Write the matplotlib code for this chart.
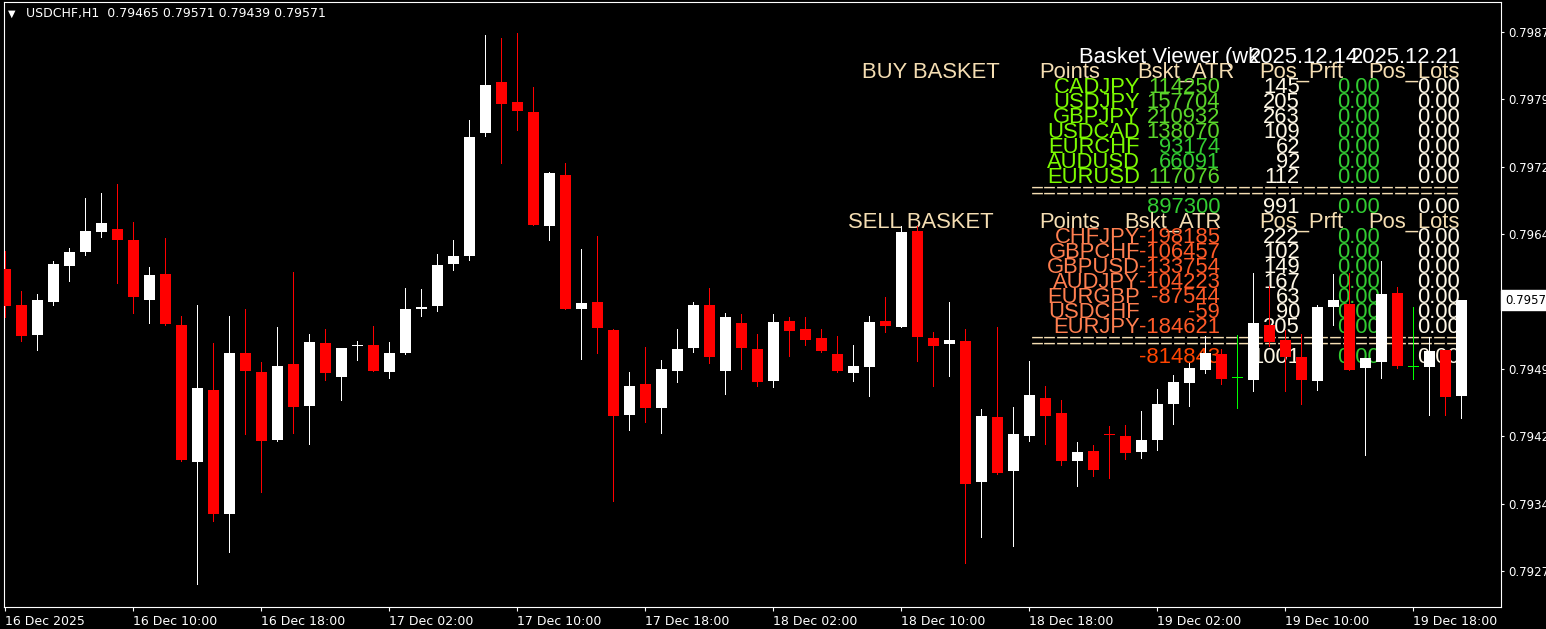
import matplotlib
matplotlib.use("Agg")
import matplotlib.pyplot as plt
from matplotlib.transforms import blended_transform_factory

W, H = 1546, 629

# USDCHF H1 candles, 16 Dec 02:00 onwards
opens = [0.79606, 0.79566, 0.79533, 0.79569, 0.79609, 0.79625, 0.79647, 0.79651, 0.79638, 0.79572,
         0.79600, 0.79544, 0.79391, 0.79471, 0.79333, 0.79513, 0.79491, 0.79416, 0.79500, 0.79454,
         0.79524, 0.79486, 0.79520, 0.79522, 0.79491, 0.79512, 0.79561, 0.79565, 0.79611, 0.79621,
         0.79757, 0.79814, 0.79792, 0.79781, 0.79654, 0.79711, 0.79561, 0.79569, 0.79538, 0.79444,
         0.79478, 0.79451, 0.79493, 0.79518, 0.79566, 0.79493, 0.79546, 0.79517, 0.79481, 0.79548,
         0.79539, 0.79529, 0.79511, 0.79490, 0.79497, 0.79548, 0.79542, 0.79648, 0.79529, 0.79523,
         0.79526, 0.79369, 0.79441, 0.79381, 0.79420, 0.79462, 0.79446, 0.79392, 0.79403, 0.79422,
         0.79420, 0.79402, 0.79416, 0.79456, 0.79479, 0.79494, 0.79511, 0.79485, 0.79483, 0.79544,
         0.79527, 0.79508, 0.79481, 0.79564, 0.79567, 0.79496, 0.79503, 0.79579, 0.79497, 0.79497,
         0.79516, 0.79465]
highs = [0.79626, 0.79581, 0.79578, 0.79615, 0.79629, 0.79685, 0.79690, 0.79700, 0.79658, 0.79608,
         0.79640, 0.79554, 0.79566, 0.79524, 0.79554, 0.79561, 0.79503, 0.79542, 0.79603, 0.79534,
         0.79539, 0.79518, 0.79526, 0.79543, 0.79525, 0.79585, 0.79584, 0.79623, 0.79638, 0.79772,
         0.79866, 0.79863, 0.79869, 0.79808, 0.79714, 0.79724, 0.79628, 0.79643, 0.79539, 0.79491,
         0.79519, 0.79505, 0.79539, 0.79569, 0.79585, 0.79557, 0.79556, 0.79534, 0.79556, 0.79553,
         0.79553, 0.79539, 0.79531, 0.79522, 0.79554, 0.79575, 0.79654, 0.79654, 0.79536, 0.79569,
         0.79539, 0.79450, 0.79542, 0.79453, 0.79504, 0.79476, 0.79460, 0.79413, 0.79410, 0.79431,
         0.79433, 0.79448, 0.79472, 0.79488, 0.79501, 0.79532, 0.79517, 0.79533, 0.79602, 0.79587,
         0.79538, 0.79534, 0.79566, 0.79600, 0.79601, 0.79507, 0.79615, 0.79586, 0.79564, 0.79530,
         0.79516, 0.79571]
lows = [0.79552, 0.79525, 0.79515, 0.79565, 0.79592, 0.79621, 0.79640, 0.79589, 0.79556, 0.79545,
        0.79543, 0.79391, 0.79255, 0.79325, 0.79290, 0.79421, 0.79357, 0.79414, 0.79423, 0.79410,
        0.79481, 0.79459, 0.79504, 0.79491, 0.79484, 0.79510, 0.79553, 0.79558, 0.79604, 0.79615,
        0.79753, 0.79723, 0.79759, 0.79654, 0.79637, 0.79560, 0.79505, 0.79511, 0.79347, 0.79426,
        0.79435, 0.79423, 0.79479, 0.79512, 0.79500, 0.79466, 0.79494, 0.79475, 0.79474, 0.79508,
        0.79520, 0.79512, 0.79490, 0.79480, 0.79464, 0.79535, 0.79540, 0.79502, 0.79475, 0.79486,
        0.79278, 0.79307, 0.79377, 0.79297, 0.79413, 0.79410, 0.79387, 0.79363, 0.79375, 0.79372,
        0.79394, 0.79395, 0.79403, 0.79433, 0.79453, 0.79489, 0.79477, 0.79450, 0.79469, 0.79519,
        0.79469, 0.79455, 0.79470, 0.79543, 0.79493, 0.79398, 0.79484, 0.79495, 0.79482, 0.79443,
        0.79443, 0.79439]
closes = [0.79565, 0.79532, 0.79572, 0.79612, 0.79625, 0.79648, 0.79657, 0.79638, 0.79575, 0.79599,
          0.79545, 0.79393, 0.79474, 0.79334, 0.79512, 0.79492, 0.79415, 0.79498, 0.79452, 0.79525,
          0.79490, 0.79518, 0.79522, 0.79492, 0.79512, 0.79561, 0.79564, 0.79610, 0.79621, 0.79753,
          0.79811, 0.79790, 0.79782, 0.79655, 0.79713, 0.79562, 0.79568, 0.79540, 0.79443, 0.79476,
          0.79451, 0.79495, 0.79517, 0.79566, 0.79508, 0.79553, 0.79518, 0.79480, 0.79547, 0.79537,
          0.79527, 0.79515, 0.79492, 0.79498, 0.79547, 0.79543, 0.79647, 0.79530, 0.79520, 0.79527,
          0.79367, 0.79442, 0.79379, 0.79422, 0.79466, 0.79443, 0.79392, 0.79402, 0.79382, 0.79421,
          0.79401, 0.79416, 0.79456, 0.79480, 0.79496, 0.79512, 0.79484, 0.79485, 0.79546, 0.79525,
          0.79508, 0.79483, 0.79564, 0.79571, 0.79494, 0.79507, 0.79578, 0.79498, 0.79497, 0.79515,
          0.79464, 0.79571]

time_label_bars = [0, 8, 16, 24, 32, 40, 48, 56, 64, 72, 80, 88]
time_labels = ["16 Dec 2025", "16 Dec 10:00", "16 Dec 18:00", "17 Dec 02:00", "17 Dec 10:00",
               "17 Dec 18:00", "18 Dec 02:00", "18 Dec 10:00", "18 Dec 18:00", "19 Dec 02:00",
               "19 Dec 10:00", "19 Dec 18:00"]
price_ticks = [0.79870, 0.79795, 0.79720, 0.79645, 0.79570, 0.79495, 0.79420, 0.79345, 0.79270]
last_price = 0.79571

# basket viewer panel
buy_pairs = ["CADJPY", "USDJPY", "GBPJPY", "USDCAD", "EURCHF", "AUDUSD", "EURUSD"]
buy_points = [114250, 157704, 210932, 138070, 93174, 66091, 117076]
buy_atr = [145, 205, 263, 109, 62, 92, 112]
buy_prft = [0.00, 0.00, 0.00, 0.00, 0.00, 0.00, 0.00]
buy_lots = [0.00, 0.00, 0.00, 0.00, 0.00, 0.00, 0.00]
buy_total = [897300, 991, 0.00, 0.00]

sell_pairs = ["CHFJPY", "GBPCHF", "GBPUSD", "AUDJPY", "EURGBP", "USDCHF", "EURJPY"]
sell_points = [-198185, -106457, -133754, -104223, -87544, -59, -184621]
sell_atr = [222, 102, 149, 167, 63, 90, 205]
sell_prft = [0.00, 0.00, 0.00, 0.00, 0.00, 0.00, 0.00]
sell_lots = [0.00, 0.00, 0.00, 0.00, 0.00, 0.00, 0.00]
sell_total = [-814843, 1001, 0.00, 0.00]

WHEAT = "#F5DEB3"
CREAM = "#FFF8E6"
LGREEN = "#7CFC00"
MGREEN = "#32CD32"
CORAL = "#FF7F50"
ORED = "#FF5A28"

fig = plt.figure(figsize=(W / 100, H / 100), dpi=100, facecolor="black")
ax = fig.add_axes([4 / W, (H - 607) / H, (1501 - 4) / W, (607 - 2) / H])
ax.set_facecolor("black")

ax.set_xlim(-0.08, 93.48)
ax.set_ylim(0.79230, 0.79903)

bw = 0.69
px_x = 1 / 16          # one pixel in bar units
px_y = 1.113e-5        # one pixel in price units
for i in range(len(opens)):
    o, h, l, c = opens[i], highs[i], lows[i], closes[i]
    if c > o:
        col = "white"
    elif c < o:
        col = "#FF0000"
    else:
        col = "#00FF00"
    # wick, 1 px wide
    ax.bar(i, h - l, bottom=l, width=px_x, color=col, linewidth=0, zorder=3, antialiased=False)
    if c == o:
        ax.bar(i, px_y, bottom=o - px_y / 2, width=bw, color=col, linewidth=0, zorder=4,
               antialiased=False)
    else:
        ax.bar(i, max(abs(c - o), 1.2e-5), bottom=min(o, c), width=bw,
               color=col, linewidth=0, zorder=4, antialiased=False)

for s in ax.spines.values():
    s.set_color("white")
    s.set_linewidth(0.8)

ax.yaxis.tick_right()
ax.set_yticks(price_ticks)
ax.set_yticklabels([f"{p:.5f}" for p in price_ticks])
ax.tick_params(axis="y", colors="white", length=2.5, width=0.8, pad=3, labelsize=8.5)
ax.set_xticks(time_label_bars)
ax.set_xticklabels(time_labels)
ax.tick_params(axis="x", colors="white", length=3, width=0.8, pad=2.5, labelsize=9)
for lab in ax.get_xticklabels():
    lab.set_ha("left")

# current price box on the price scale
tr = blended_transform_factory(fig.transFigure, ax.transData)
ax.text(1505 / W, last_price, f"{last_price:.5f}", transform=tr, ha="left", va="center",
        fontsize=8.5, color="black", zorder=10, clip_on=False,
        bbox=dict(boxstyle="square,pad=0.3", fc="white", ec="white"))

# chart title
ax.text(8 / W, 1 - 14 / H, "\u25bc", transform=fig.transFigure, color="white",
        fontsize=7, va="center", ha="left", zorder=10)
ax.text(26 / W, 1 - 14 / H, "USDCHF,H1  0.79465 0.79571 0.79439 0.79571",
        transform=fig.transFigure, color="white", fontsize=9, va="center", ha="left", zorder=10)

FS = 22 * 0.72


def label(txt, x, row, color, ha="left"):
    y = 63 + 15 * row
    ax.text(x / W, 1 - y / H, txt, transform=fig.transFigure, color=color,
            fontsize=FS, family="Liberation Sans", ha=ha, va="baseline",
            zorder=2, clip_on=False)


label("Basket Viewer (wk", 1079, 0, "white")
label("2025.12.14", 1249, 0, "white")
label("2025.12.21", 1351, 0, "white")


def basket(title, title_x, atr_x, row0, pairs, points, atr, prft, lots, total, pcol, vcol, tcol):
    label(title, title_x, row0, WHEAT)
    label("Points", 1039, row0, WHEAT)
    label("Bskt_ATR", atr_x, row0, WHEAT)
    label("Pos_Prft", 1259, row0, WHEAT)
    label("Pos_Lots", 1460, row0, WHEAT, ha="right")
    for j in range(len(pairs)):
        r = row0 + 1 + j
        label(pairs[j], 1140, r, pcol, ha="right")
        label(str(points[j]), 1220, r, vcol[j], ha="right")
        label(str(atr[j]), 1300, r, CREAM, ha="right")
        label(f"{prft[j]:.2f}", 1380, r, MGREEN, ha="right")
        label(f"{lots[j]:.2f}", 1460, r, CREAM, ha="right")
    r = row0 + len(pairs) + 1
    label("=" * 33, 1460, r, WHEAT, ha="right")
    label(str(total[0]), 1220, r + 1, tcol, ha="right")
    label(str(total[1]), 1300, r + 1, CREAM, ha="right")
    label(f"{total[2]:.2f}", 1380, r + 1, MGREEN, ha="right")
    label(f"{total[3]:.2f}", 1460, r + 1, CREAM, ha="right")


buy_vcol = ["#5AD52A", "#5AD52A", "#5AD52A", "#5AD52A", MGREEN, MGREEN, "#5AD52A"]
sell_vcol = [ORED] * 7
basket("BUY BASKET", 862, 1137, 1, buy_pairs, buy_points, buy_atr, buy_prft, buy_lots,
       buy_total, LGREEN, buy_vcol, MGREEN)
basket("SELL BASKET", 848, 1124, 11, sell_pairs, sell_points, sell_atr, sell_prft, sell_lots,
       sell_total, CORAL, sell_vcol, "#FF4500")

fig.savefig("out.png", dpi=100, facecolor="black")
